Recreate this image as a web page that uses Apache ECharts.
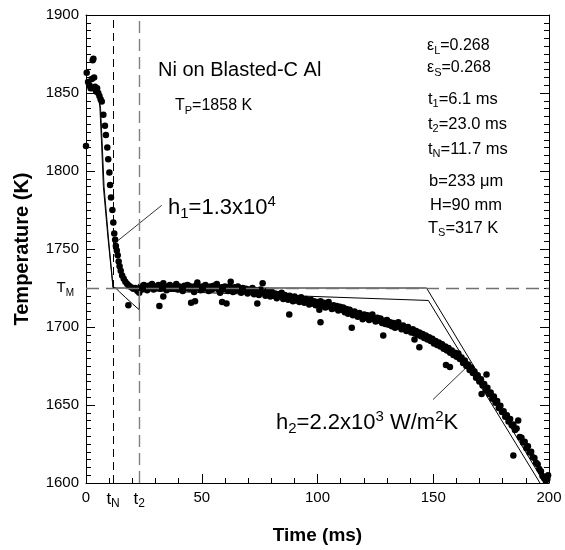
<!DOCTYPE html>
<html>
<head>
<meta charset="utf-8">
<script src="https://cdn.jsdelivr.net/npm/echarts@6/dist/echarts.min.js"></script>
<style>
  html, body { margin: 0; padding: 0; background: #fff; }
  #chart { width: 565px; height: 550px; }
</style>
</head>
<body>
<div id="chart"></div>
<script>
// measured points [time ms, temperature K]
const earlyDrop = [
  [0.0,1816],[0.3,1863],[0.9,1857],[1.5,1855],[2.0,1853],[2.5,1859],[2.9,1871],[3.2,1872],[3.0,1853],
  [3.5,1860],[3.9,1854],[4.4,1851],[4.8,1853],[5.3,1850],[5.8,1848],[6.3,1846],[6.8,1844.5],[7.5,1836],
  [8.2,1829],[8.6,1823],[9.2,1815],[9.6,1807.5],[10.1,1799],[10.4,1791],[10.8,1783],[11.4,1775],
  [11.8,1767],[12.2,1760],[12.6,1756],[12.9,1752],[13.3,1749],[13.7,1746],[14.1,1742],[14.5,1739],
  [15.0,1736],[15.6,1733],[16.3,1731],[17.0,1729],[17.8,1727.5],[18.6,1726.5],[19.5,1725.5],
  [20.4,1724.5],[21.3,1725],[22.2,1723],[23.0,1722]
];
const plateau = [
  [23.6,1726],[24.3,1724],[25.0,1727],[25.7,1725],[26.4,1723.5],[27.1,1726.5],[27.8,1725],[28.5,1727.5],
  [29.2,1724],[29.9,1726],[30.6,1725],[31.3,1727],[32.0,1724.5],[32.7,1726],[33.4,1728],[34.1,1725],
  [34.8,1723.5],[35.5,1726],[36.2,1727],[36.9,1724.5],[37.6,1726],[38.3,1725],[39.0,1727.5],[39.7,1724],
  [40.4,1726],[41.1,1725],[41.8,1723],[42.5,1726.5],[43.2,1725],[43.9,1727],[44.6,1724.5],[45.3,1726],
  [46.0,1725],[46.7,1722.5],[47.4,1726.5],[48.1,1728.5],[48.8,1725],[49.5,1723.5],[50.2,1726],[50.9,1724.5],
  [51.6,1727],[52.3,1725],[53.0,1723],[53.7,1726],[54.4,1724],[55.1,1726.5],[55.8,1725],[56.5,1727.5],
  [57.2,1724],[57.9,1722],[58.6,1725.5],[59.3,1724],[60.0,1726],[60.7,1725],[61.4,1723],[62.1,1726],
  [62.5,1729],[62.8,1724],[63.5,1722.5],[64.2,1725.5],[64.9,1723.5],[65.6,1726],[66.3,1724],[67.0,1722],
  [67.7,1725],[68.4,1723],[69.1,1724.5],[69.8,1721.5],[70.5,1724],[71.2,1722.5],[71.9,1725],[72.6,1721],
  [73.3,1723.5],[74.0,1722],[74.7,1720.5],[75.4,1724],[76.3,1728],[76.8,1722],[77.5,1720],[78.2,1723],
  [78.9,1721],[79.6,1719.5],[80.3,1722.5],[81.0,1720],[81.7,1721.5],[82.4,1718.5],[83.1,1721],[83.8,1719.5],
  [84.5,1722],[85.2,1718],[85.9,1720.5],[86.6,1719],[87.3,1717.5],[88.0,1720],[88.7,1718],[89.4,1716.5],
  [90.1,1719.5],[90.8,1717],[91.5,1718.5],[92.2,1716],[92.9,1719],[93.6,1717],[94.3,1715.5],[95.0,1718],
  [95.7,1716.5],[96.4,1714.5],[97.1,1717.5],[97.8,1715],[98.5,1716.5],[99.2,1714],[99.9,1716]
];
const decline = [
  [100.6,1714.5],[101.3,1716.5],[102.0,1713.5],[102.7,1715.5],[103.4,1712.5],[104.1,1714.5],[104.8,1716],
  [105.5,1713],[106.2,1711.5],[106.9,1714],[107.6,1712],[108.3,1713.5],[109.0,1710.5],[109.7,1713],
  [110.4,1711],[111.1,1712.5],[111.8,1709.5],[112.5,1711.5],[113.2,1708.5],[113.9,1711],[114.6,1709],
  [115.3,1707.5],[116.0,1710],[116.7,1708],[117.4,1706.5],[118.1,1709],[118.8,1707],[119.5,1705],
  [120.2,1708],[120.9,1706],[121.6,1707.5],[122.3,1704.5],[123.0,1706.5],[123.7,1708],[124.4,1705],
  [125.1,1703.5],[125.8,1706],[126.5,1704],[127.2,1705.5],[127.9,1702.5],[128.6,1704],[129.3,1702],
  [130.0,1704.5],[130.7,1701.5],[131.4,1703],[132.1,1700.5],[132.8,1702.5],[133.5,1699.5],[134.2,1701.5],
  [134.9,1703],[135.6,1700],[136.3,1698.5],[137.0,1701],[137.7,1699],[138.4,1697.5],[139.1,1700],
  [139.8,1698],[140.5,1696.5],[141.2,1698.5],[141.9,1696],[142.6,1697.5],[143.3,1695],[144.0,1696.5],
  [144.7,1694],[145.4,1695.5],[146.1,1693],[146.8,1694.5],[147.5,1692],[148.2,1693.5],[148.9,1691],
  [149.6,1692.5],[150.3,1689.5],[151.0,1691],[151.7,1688.5],[152.4,1690],[153.1,1687.5],[153.8,1689],
  [154.5,1686],[155.2,1687.5],[155.9,1685],[156.6,1686.5],[157.3,1683.5],[158.0,1685],[158.7,1682],
  [159.4,1683.5],[160.1,1681],[160.8,1683],[161.5,1679.5],[162.2,1680.5],[162.9,1677],[163.6,1678.5],
  [164.3,1675],[165.0,1676],[165.7,1672.5],[166.4,1674],[167.1,1670.5],[167.8,1671.5],[168.5,1667.5],
  [169.2,1669],[169.9,1665],[170.6,1666.5],[171.3,1662.5],[172.0,1663.5],[172.7,1659.5],[173.4,1661],
  [174.1,1657],[174.8,1658],[175.5,1654],[176.2,1655.5],[176.9,1651.5],[177.6,1652.5],[178.3,1648],
  [179.0,1649.5],[179.7,1645.5],[180.4,1646],[181.1,1642.5],[181.8,1643.5],[182.5,1639.5],[183.2,1641],
  [183.9,1637],[184.6,1637.5],[185.3,1634],[186.0,1635],[186.7,1640],[187.4,1629.5],[188.1,1629],
  [188.8,1626],[189.5,1626.5],[190.2,1622.5],[190.9,1623.5],[191.6,1619.5],[192.3,1620],[193.0,1616.5],
  [193.7,1616],[194.4,1613],[195.1,1612],[195.8,1609],[196.5,1607.5],[197.2,1604.5],[197.9,1603],
  [198.6,1601.5],[199.3,1602.5],[199.6,1605]
];
const outliers = [
  [18.3,1714],[31.7,1713.5],[33.4,1719.5],[45.4,1715.5],[47.1,1716.5],[58.8,1716],[60.7,1715],
  [74.0,1715],[87.8,1708],[100.8,1711],[101.3,1703],[114.8,1699.5],[128.4,1694.6],[141.9,1692],
  [144.0,1687],[155.5,1675.6],[157.2,1674.3],[170.9,1657],[173.0,1669.5],[184.6,1617.6]
];

// model curves
const modelUpper = [
  [0,1857],[2,1856],[4,1853],[5.3,1849],[6.0,1841],[6.8,1815],[7.5,1790],[9.5,1757],[11.7,1725],
  [147.1,1725],[198,1600]
];
const modelLower = [
  [0,1857],[2,1855.5],[4,1852],[5.6,1847.5],[6.3,1840],[7.1,1814],[7.8,1790],[9.7,1757],[11.7,1725.5],
  [12.8,1725],[14.5,1722.5],[17,1719],[20,1715],[23,1711],[23,1723.5],[147.9,1717],[196.1,1600]
];
const leaderH1 = [[13.9,1755.5],[32.7,1778]];
const leaderH2 = [[149.9,1653.5],[163.7,1673.2]];

const tMelt = 1725, tN = 11.7, t2 = 23.0;
const xTicks = [0, 200, 50];
const yTicks = [1600, 1900, 50];

const FONT = '"Liberation Sans", Arial, Helvetica, sans-serif';

function rich(base) {
  return {
    m: { fontSize: base, lineHeight: base + 5, fontFamily: FONT, color: '#000' },
    s: { fontSize: Math.round(base * 0.68), lineHeight: Math.round(base * 0.68), verticalAlign: 'bottom', fontFamily: FONT, color: '#000' },
    p: { fontSize: Math.round(base * 0.68), lineHeight: Math.round(base * 0.68), verticalAlign: 'top', fontFamily: FONT, color: '#000' }
  };
}
function txt(x, y, text, size) {
  return { type: 'text', x: x, y: y, silent: true,
    style: { text: text, rich: rich(size), align: 'left', verticalAlign: 'middle', fill: '#000' } };
}

const chart = echarts.init(document.getElementById('chart'), null, { renderer: 'canvas' });

const baseX = {
  type: 'value', min: xTicks[0], max: xTicks[1], interval: xTicks[2],
  splitLine: { show: false }, minorSplitLine: { show: false },
  axisLine: { onZero: false, lineStyle: { color: '#000', width: 1 } }
};
const baseY = {
  type: 'value', min: yTicks[0], max: yTicks[1], interval: yTicks[2],
  splitLine: { show: false }, minorSplitLine: { show: false },
  axisLine: { onZero: false, lineStyle: { color: '#000', width: 1 } }
};

chart.setOption({
  animation: false,
  backgroundColor: '#fff',
  textStyle: { fontFamily: FONT },
  grid: { left: 86, right: 16, top: 15, bottom: 64 },
  xAxis: [
    Object.assign({}, baseX, {
      position: 'bottom',
      axisTick: { inside: true, length: 9, lineStyle: { color: '#000' } },
      minorTick: { show: true, splitNumber: 5, length: 5, lineStyle: { color: '#000' } },
      axisLabel: { fontSize: 15, color: '#000', margin: 7, fontFamily: FONT, formatter: v => String(v) },
      name: 'Time (ms)', nameLocation: 'middle', nameGap: 43,
      nameTextStyle: { fontSize: 19, fontWeight: 'bold', color: '#000', fontFamily: FONT }
    }),
    Object.assign({}, baseX, {
      position: 'top', axisTick: { show: false }, axisLabel: { show: false }
    }),
    Object.assign({}, baseX, {
      position: 'bottom', axisLine: { show: false, onZero: false }, axisTick: { show: false },
      axisLabel: {
        customValues: [tN, t2], margin: 5,
        formatter: v => v < 15 ? '{m|t}{s|N}' : '{m|t}{s|2}',
        rich: rich(17)
      }
    })
  ],
  yAxis: [
    Object.assign({}, baseY, {
      position: 'left',
      axisTick: { inside: true, length: 9, lineStyle: { color: '#000' } },
      minorTick: { show: true, splitNumber: 10, length: 5, lineStyle: { color: '#000' } },
      axisLabel: { fontSize: 15, color: '#000', margin: 7, fontFamily: FONT, formatter: v => String(v) },
      name: 'Temperature (K)', nameLocation: 'middle', nameGap: 54,
      nameTextStyle: { fontSize: 20, fontWeight: 'bold', color: '#000', fontFamily: FONT }
    }),
    Object.assign({}, baseY, {
      position: 'right',
      axisTick: { inside: true, length: 9, lineStyle: { color: '#000' } },
      minorTick: { show: true, splitNumber: 10, length: 5, lineStyle: { color: '#000' } },
      axisLabel: { show: false }
    }),
    Object.assign({}, baseY, {
      position: 'left', axisLine: { show: false, onZero: false }, axisTick: { show: false },
      axisLabel: {
        customValues: [tMelt], margin: 12,
        formatter: () => '{m|T}{s|M}',
        rich: rich(15)
      }
    })
  ],
  series: [
    {
      type: 'line', data: modelUpper, showSymbol: false, symbol: 'none', silent: true,
      lineStyle: { color: '#000', width: 1 }, z: 3,
      markLine: {
        silent: true, symbol: 'none', label: { show: false },
        data: [
          { yAxis: tMelt, lineStyle: { color: '#707070', type: [13, 7], width: 1.4 } },
          { xAxis: tN, lineStyle: { color: '#000', type: [8, 5], width: 1 } },
          { xAxis: t2, lineStyle: { color: '#808080', type: [12, 6], width: 1.4 } }
        ]
      }
    },
    {
      type: 'line', data: modelLower, showSymbol: false, symbol: 'none', silent: true,
      lineStyle: { color: '#000', width: 1 }, z: 3
    },
    {
      type: 'line', data: leaderH1, showSymbol: false, symbol: 'none', silent: true,
      lineStyle: { color: '#000', width: 0.8 }, z: 3
    },
    {
      type: 'line', data: leaderH2, showSymbol: false, symbol: 'none', silent: true,
      lineStyle: { color: '#000', width: 0.8 }, z: 3
    },
    {
      type: 'scatter', symbol: 'circle', symbolSize: 6.5, silent: true,
      data: earlyDrop.concat(plateau, decline, outliers),
      itemStyle: { color: '#000', opacity: 1 }, z: 4
    }
  ],
  graphic: [
    { type: 'text', x: 158, y: 70, silent: true,
      style: { text: 'Ni on Blasted-C Al', font: '20px ' + FONT, fill: '#000', align: 'left', verticalAlign: 'middle' } },
    txt(175, 106, '{m|T}{s|P}{m|=1858 K}', 16),
    txt(427, 46, '{m|ε}{s|L}{m|=0.268}', 16),
    txt(427, 68, '{m|ε}{s|S}{m|=0.268}', 16),
    txt(428, 99, '{m|t}{s|1}{m|=6.1 ms}', 16.5),
    txt(428, 124, '{m|t}{s|2}{m|=23.0 ms}', 16.5),
    txt(428, 149, '{m|t}{s|N}{m|=11.7 ms}', 16.5),
    txt(429, 181, '{m|b=233 μm}', 16.5),
    txt(430, 205, '{m|H=90 mm}', 16.5),
    txt(428, 228, '{m|T}{s|S}{m|=317 K}', 16.5),
    txt(168, 208, '{m|h}{s|1}{m|=1.3x10}{p|4}', 22),
    txt(276, 423, '{m|h}{s|2}{m|=2.2x10}{p|3}{m| W/m}{p|2}{m|K}', 22)
  ]
});
</script>
</body>
</html>
